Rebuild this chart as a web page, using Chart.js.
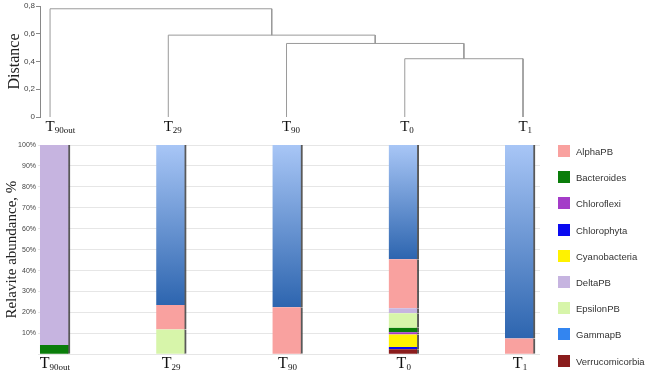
<!DOCTYPE html>
<html>
<head>
<meta charset="utf-8">
<script src="https://cdn.jsdelivr.net/npm/chart.js@4/dist/chart.umd.min.js"></script>
<style>
    body { margin: 0; background: #fff; }
    #wrap { position: relative; width: 645px; height: 373px; }
    #tree { position: absolute; left: 0; top: 0; }
    #bars { position: absolute; left: 0; top: 135px; }
    #legend {
        position: absolute; left: 558px; top: 145px;
        font: 9.5px "Liberation Sans", Arial, sans-serif; color: #333;
    }
    #legend .item { height: 26.2px; display: flex; align-items: flex-start; }
    #legend .box { width: 12px; height: 12px; margin-right: 6px; }
    #legend .txt { line-height: 12px; padding-top: 1px; }
</style>
</head>
<body>
<div id="wrap">
    <canvas id="tree" width="645" height="135"></canvas>
    <canvas id="bars" width="645" height="238"></canvas>
    <div id="legend"></div>
</div>
<script>
"use strict";

// sample names: first letter normal, rest drawn as subscript
var samples = ["T90out", "T29", "T90", "T0", "T1"];

// dendrogram: leaves 0..4, each merge makes node 5, 6, 7, 8
var treeLeft = [3, 2, 1, 0];
var treeRight = [4, 5, 6, 7];
var treeHeights = [0.42, 0.53, 0.59, 0.78];
var distanceTicks = [0, 0.2, 0.4, 0.6, 0.8];

// relative abundance, %, stacked bottom to top
var seriesNames = ["Verrucomicorbia", "Chlorophyta", "Cyanobacteria", "Chloroflexi",
    "Bacteroides", "EpsilonPB", "DeltaPB", "AlphaPB", "GammapB"];
var seriesColors = ["#8a1c1c", "#0a0af0", "#fff200", "#a43cc8",
    "#0a7d0a", "#d7f5aa", "#c6b4e0", "#f9a19f", "#3385f0"];
var verrucomicrobia = [0, 0, 0, 2.4, 0];
var chlorophyta = [0, 0, 0, 1.1, 0];
var cyanobacteria = [0, 0, 0, 6.0, 0];
var chloroflexi = [0, 0, 0, 1.0, 0];
var bacteroides = [4.4, 0, 0, 2.2, 0];
var epsilonPB = [0, 11.9, 0, 6.9, 0];
var deltaPB = [95.6, 0, 0, 2.4, 0];
var alphaPB = [0, 11.7, 22.5, 23.4, 7.6];
var gammaPB = [0, 76.4, 77.5, 54.6, 92.4];
var seriesValues = [verrucomicrobia, chlorophyta, cyanobacteria, chloroflexi,
    bacteroides, epsilonPB, deltaPB, alphaPB, gammaPB];

var serif = '"Liberation Serif", "Times New Roman", serif';
var sans = '"Liberation Sans", Arial, sans-serif';

// draws "T" with its subscript under each sample position
var sampleLabels = {
    id: "sampleLabels",
    afterDraw: function(chart, args, opts) {
        var ctx = chart.ctx;
        var xs = chart.scales.x;
        var base = chart.chartArea.bottom + opts.offset;
        samples.forEach(function(label, i) {
            var main = label.charAt(0);
            var sub = label.slice(1);
            ctx.save();
            ctx.fillStyle = "#111";
            ctx.textBaseline = "alphabetic";
            ctx.font = opts.size + "px " + serif;
            var w1 = ctx.measureText(main).width;
            ctx.font = opts.subSize + "px " + serif;
            var w2 = ctx.measureText(sub).width;
            // tree labels put the letter on the leaf, bar labels centre the whole text
            var left = xs.getPixelForValue(i) - (opts.letterOnTick ? w1 / 2 : (w1 + w2) / 2);
            ctx.font = opts.size + "px " + serif;
            ctx.fillText(main, left, base);
            ctx.font = opts.subSize + "px " + serif;
            ctx.fillText(sub, left + w1, base + opts.drop);
            ctx.restore();
        });
    }
};

function _treeDatasets() {
    var nodes = samples.map(function(s, i) {
        return { x: i, y: 0 };
    });
    var sets = [];
    treeHeights.forEach(function(h, k) {
        var a = nodes[treeLeft[k]];
        var b = nodes[treeRight[k]];
        sets.push({
            data: [{ x: a.x, y: a.y }, { x: a.x, y: h }, { x: b.x, y: h }, { x: b.x, y: b.y }],
            borderColor: "#9a9a9a",
            borderWidth: 1,
            pointRadius: 0,
            fill: false,
            tension: 0
        });
        nodes.push({ x: (a.x + b.x) / 2, y: h });
    });
    return sets;
}

function _gammaFill(ctx) {
    var chart = ctx.chart;
    if (!chart.chartArea || ctx.type !== "data") {
        return seriesColors[8];
    }
    var below = 0;
    for (var s = 0; s < 8; s++) {
        below += seriesValues[s][ctx.dataIndex];
    }
    var y = chart.scales.y;
    var top = y.getPixelForValue(below + ctx.raw.y);
    var bottom = y.getPixelForValue(below);
    if (bottom - top < 1) {
        return seriesColors[8];
    }
    var g = chart.ctx.createLinearGradient(0, top, 0, bottom);
    g.addColorStop(0, "#a8c6f6");
    g.addColorStop(1, "#2d65af");
    return g;
}

function _drawTree() {
    new Chart(document.getElementById("tree"), {
        type: "line",
        data: { datasets: _treeDatasets() },
        plugins: [sampleLabels],
        options: {
            responsive: false,
            animation: false,
            devicePixelRatio: 1,
            layout: { padding: { left: 0, top: 6, right: 100, bottom: 18 } },
            plugins: {
                legend: { display: false },
                tooltip: { enabled: false },
                sampleLabels: { offset: 14, size: 15, subSize: 9, drop: 2, letterOnTick: true }
            },
            scales: {
                x: { type: "linear", min: -0.085, max: 4.186, display: false },
                y: {
                    min: 0,
                    max: 0.8,
                    afterFit: function(scale) { scale.width = 40; },
                    afterBuildTicks: function(scale) {
                        scale.ticks = distanceTicks.map(function(v) { return { value: v }; });
                    },
                    ticks: {
                        padding: 1,
                        color: "#444",
                        font: { family: sans, size: 8 },
                        callback: function(v) {
                            return v === 0 ? "0" : v.toFixed(1).replace(".", ",");
                        }
                    },
                    grid: { drawOnChartArea: false, drawTicks: true, tickLength: 4, color: "#888" },
                    border: { display: true, color: "#888" },
                    title: {
                        display: true,
                        text: "Distance",
                        color: "#222",
                        font: { family: serif, size: 16 },
                        padding: { top: 5, bottom: 0 }
                    }
                }
            }
        }
    });
}

function _drawBars() {
    var datasets = seriesNames.map(function(name, s) {
        return {
            label: name,
            data: seriesValues[s].map(function(v, i) { return { x: i, y: v }; }),
            backgroundColor: s === 8 ? _gammaFill : seriesColors[s],
            borderColor: "rgba(60,60,60,0.85)",
            borderWidth: { top: 0, right: 2, bottom: 0, left: 0 },
            barThickness: 30
        };
    });
    new Chart(document.getElementById("bars"), {
        type: "bar",
        data: { datasets: datasets },
        plugins: [sampleLabels],
        options: {
            responsive: false,
            animation: false,
            devicePixelRatio: 1,
            layout: { padding: { left: 0, top: 10, right: 105, bottom: 18.7 } },
            plugins: {
                legend: { display: false },
                tooltip: { enabled: false },
                sampleLabels: { offset: 14, size: 16, subSize: 9, drop: 2 }
            },
            scales: {
                x: {
                    type: "linear",
                    stacked: true,
                    offset: false,
                    min: -0.146,
                    max: 4.172,
                    display: false
                },
                y: {
                    stacked: true,
                    min: 0,
                    max: 100,
                    afterFit: function(scale) { scale.width = 38; },
                    ticks: {
                        stepSize: 10,
                        padding: 2,
                        color: "#444",
                        font: { family: sans, size: 7 },
                        callback: function(v) { return v === 0 ? "" : v + "%"; }
                    },
                    grid: { color: "#e6e6e6", drawTicks: false },
                    border: { display: false },
                    title: {
                        display: true,
                        text: "Relavite abundance, %",
                        color: "#222",
                        font: { family: serif, size: 15 },
                        padding: { top: 3, bottom: 0 }
                    }
                }
            }
        }
    });
}

function _drawLegend() {
    var legend = document.getElementById("legend");
    seriesNames.slice().sort().forEach(function(name) {
        var item = document.createElement("div");
        item.className = "item";
        var box = document.createElement("span");
        box.className = "box";
        box.style.background = seriesColors[seriesNames.indexOf(name)];
        var txt = document.createElement("span");
        txt.className = "txt";
        txt.textContent = name;
        item.appendChild(box);
        item.appendChild(txt);
        legend.appendChild(item);
    });
}

_drawTree();
_drawBars();
_drawLegend();
</script>
</body>
</html>
